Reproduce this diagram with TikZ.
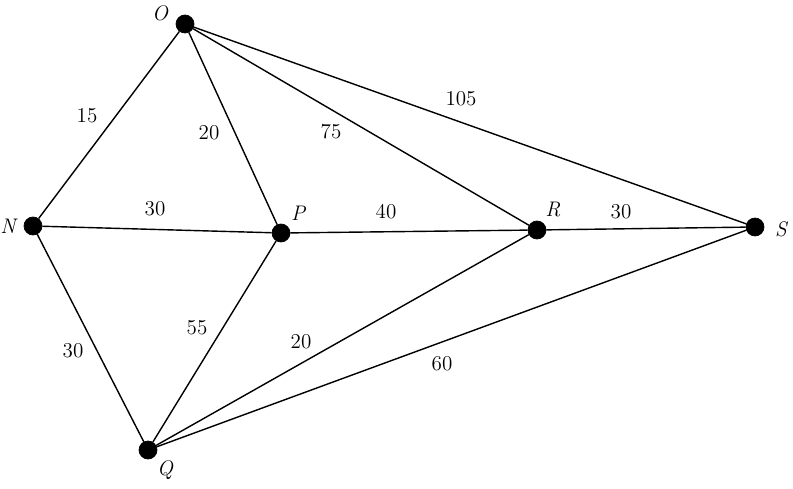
\documentclass[tikz,border=0pt]{standalone}
\usepackage{amsmath, amssymb}
\usepackage{tikz}
\usetikzlibrary{positioning}
\tikzset{
    vertex/.style={
        draw,
        circle,
        fill=black,
        minimum size=0.36cm,
        inner sep=0pt
    },
    weight/.style={font=\large},
    vname/.style={font=\large\itshape}
}

\begin{document}
\begin{tikzpicture}[x=0.02cm,y=-0.02cm]
  \useasboundingbox (0,0) rectangle (793,489);
  % Vertices
  \node[vertex] (O) at (185,24) {};
  \node[vertex] (N) at (33,226) {};
  \node[vertex] (P) at (281,233) {};
  \node[vertex] (R) at (537,230) {};
  \node[vertex] (S) at (755,227) {};
  \node[vertex] (Q) at (148,450) {};

  % Vertex names
  \node[vname] (lO) at (160,13) {O};
  \node[vname] (lN) at (8,226) {N};
  \node[vname] (lP) at (298,213) {P};
  \node[vname] (lR) at (553,210) {R};
  \node[vname] (lS) at (781,229) {S};
  \node[vname] (lQ) at (165,470) {Q};

  % Edges
  \draw[thick] (O) -- (N);
  \draw[thick] (O) -- (P);
  \draw[thick] (O) -- (R);
  \draw[thick] (O) -- (S);
  \draw[thick] (N) -- (P);
  \draw[thick] (P) -- (R);
  \draw[thick] (R) -- (S);
  \draw[thick] (N) -- (Q);
  \draw[thick] (P) -- (Q);
  \draw[thick] (Q) -- (R);
  \draw[thick] (Q) -- (S);

  % Weights
  \node[weight] (wON) at (87,116) {15};
  \node[weight] (wOP) at (209,133) {20};
  \node[weight] (wOR) at (331,132) {75};
  \node[weight] (wOS) at (461,99) {105};
  \node[weight] (wNP) at (155,209) {30};
  \node[weight] (wPR) at (386,212) {40};
  \node[weight] (wRS) at (621,212) {30};
  \node[weight] (wPQ) at (197,328) {55};
  \node[weight] (wQR) at (301,342) {20};
  \node[weight] (wQS) at (442,364) {60};
  \node[weight] (wNQ) at (73,351) {30};
\end{tikzpicture}
\end{document}
